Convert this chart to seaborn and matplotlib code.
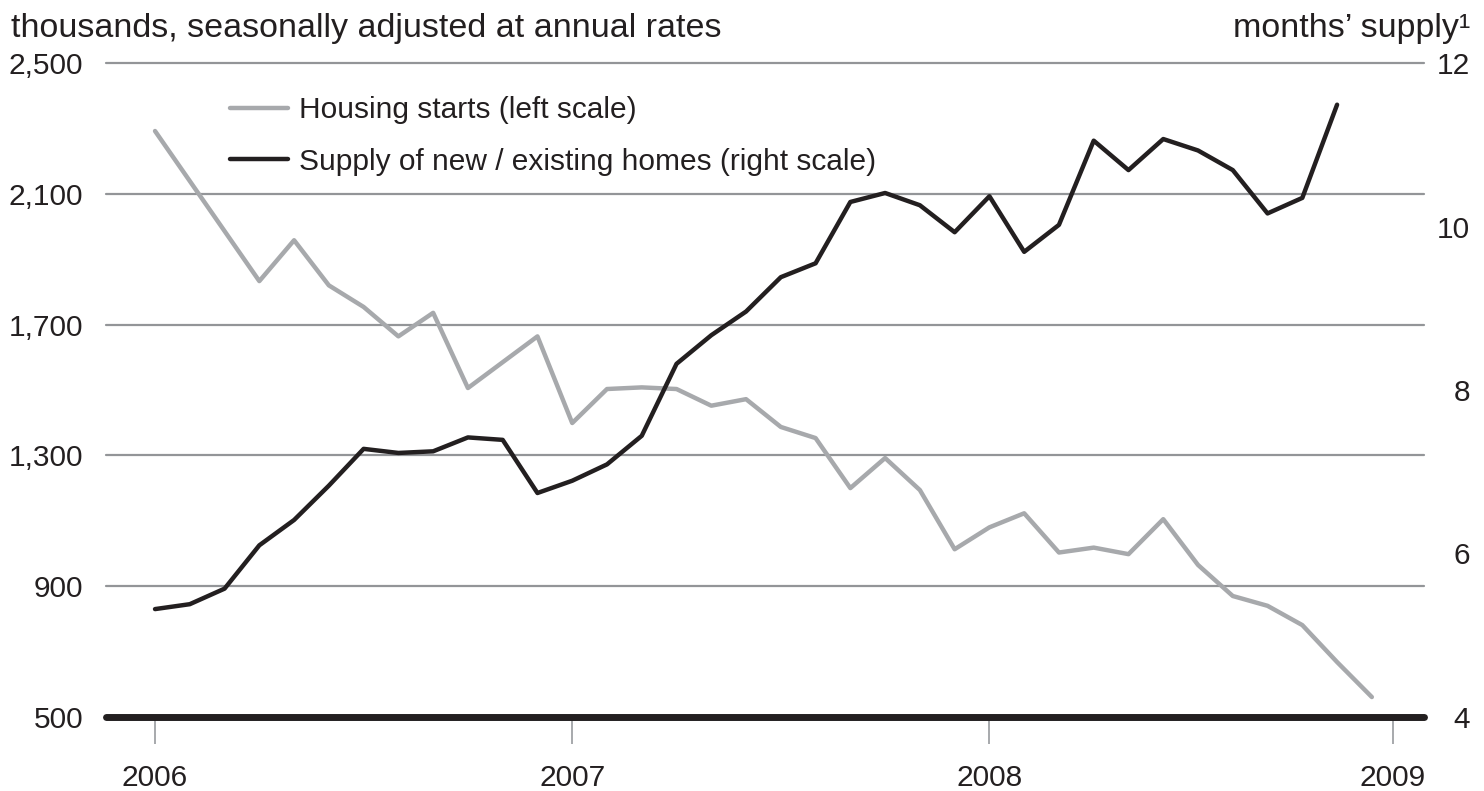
import numpy as np
import pandas as pd
import matplotlib
matplotlib.use("Agg")
import matplotlib.pyplot as plt
import seaborn as sns

# =============================================================================
# DATA (monthly, index 0 = Jan 2006)
# =============================================================================
housing_starts = [2292, 2139, 1986, 1833, 1958, 1820, 1754, 1664, 1736, 1506, 1585, 1664,
                  1399, 1503, 1508, 1503, 1452, 1472, 1387, 1353, 1200, 1292, 1194, 1013,
                  1080, 1123, 1003, 1018, 998, 1105, 965, 870, 840, 781, 668, 561]
months_supply = [5.32, 5.38, 5.57, 6.10, 6.41, 6.83, 7.28, 7.23, 7.25, 7.42, 7.39, 6.74,
                 6.89, 7.09, 7.44, 8.32, 8.67, 8.96, 9.38, 9.55, 10.30, 10.41, 10.26, 9.93,
                 10.37, 9.69, 10.02, 11.05, 10.69, 11.07, 10.93, 10.69, 10.16, 10.35, 11.49]
year_labels = ["2006", "2007", "2008", "2009"]
year_pos = [0, 12, 24, 35.6]
left_ticks = [500, 900, 1300, 1700, 2100, 2500]
right_ticks = [4, 6, 8, 10, 12]

df_starts = pd.DataFrame({"month": np.arange(len(housing_starts)), "value": housing_starts})
df_supply = pd.DataFrame({"month": np.arange(len(months_supply)), "value": months_supply})

LIGHT = "#a7a9ac"
GRID = "#939598"
DARK = "#231f20"

sns.set_style("white")
plt.rcParams["font.family"] = ["Liberation Sans", "DejaVu Sans"]

W, H = 1484, 791
fig = plt.figure(figsize=(W / 100, H / 100), dpi=100)
ax = fig.add_axes([106 / W, 1 - 717 / H, (1424 - 106) / W, (717 - 63) / H])
ax2 = ax.twinx()

# grille horizontale + ligne de base épaisse
for t in left_ticks[1:]:
    ax.axhline(t, color=GRID, lw=1.6, zorder=0, clip_on=False)
ax.axhline(left_ticks[0], color=DARK, lw=5, zorder=5, clip_on=False)

sns.lineplot(data=df_starts, x="month", y="value", ax=ax, color=LIGHT, lw=3.2,
             label="Housing starts (left scale)", legend=False)
sns.lineplot(data=df_supply, x="month", y="value", ax=ax2, color=DARK, lw=3.2,
             label="Supply of new / existing homes (right scale)", legend=False)

ax.set_xlim(-1.41, 36.5)
ax.set_ylim(500, 2500)
ax2.set_ylim(4, 12)

for a in (ax, ax2):
    for s in a.spines.values():
        s.set_visible(False)
    a.set_xlabel("")
    a.set_ylabel("")

ax.set_yticks(left_ticks)
ax.set_yticklabels([f"{t:,}" for t in left_ticks])
ax.tick_params(axis="y", length=0, pad=16.5, labelsize=21.5, labelcolor=DARK)

ax2.set_yticks(right_ticks)
ax2.set_yticklabels([str(t) for t in right_ticks], ha="right")
ax2.tick_params(axis="y", length=0, pad=33, labelsize=21.5, labelcolor=DARK)

ax.set_xticks(year_pos)
ax.set_xticklabels(year_labels)
ax.tick_params(axis="x", length=19.5, width=1.4, color=LIGHT, direction="out",
               pad=14, labelsize=21.5, labelcolor=DARK, bottom=True)

# légende
h1 = ax.get_lines()[-1]
h2 = ax2.get_lines()[-1]
leg = ax2.legend([h1, h2], [h1.get_label(), h2.get_label()],
                 loc="upper left", bbox_to_anchor=(230 / W, 1 - 96 / H),
                 bbox_transform=fig.transFigure, frameon=False, fontsize=21.5,
                 handlelength=1.95, handletextpad=0.36, labelspacing=0.8,
                 borderpad=0, borderaxespad=0)
for t in leg.get_texts():
    t.set_color(DARK)

# titres d'axes
fig.text(11 / W, 1 - 36.7 / H, "thousands, seasonally adjusted at annual rates",
         fontsize=24.5, color=DARK, ha="left", va="baseline")
fig.text(1470 / W, 1 - 36.7 / H, "months\u2019 supply\u00b9",
         fontsize=24.5, color=DARK, ha="right", va="baseline")

fig.savefig("out.png", dpi=100)
